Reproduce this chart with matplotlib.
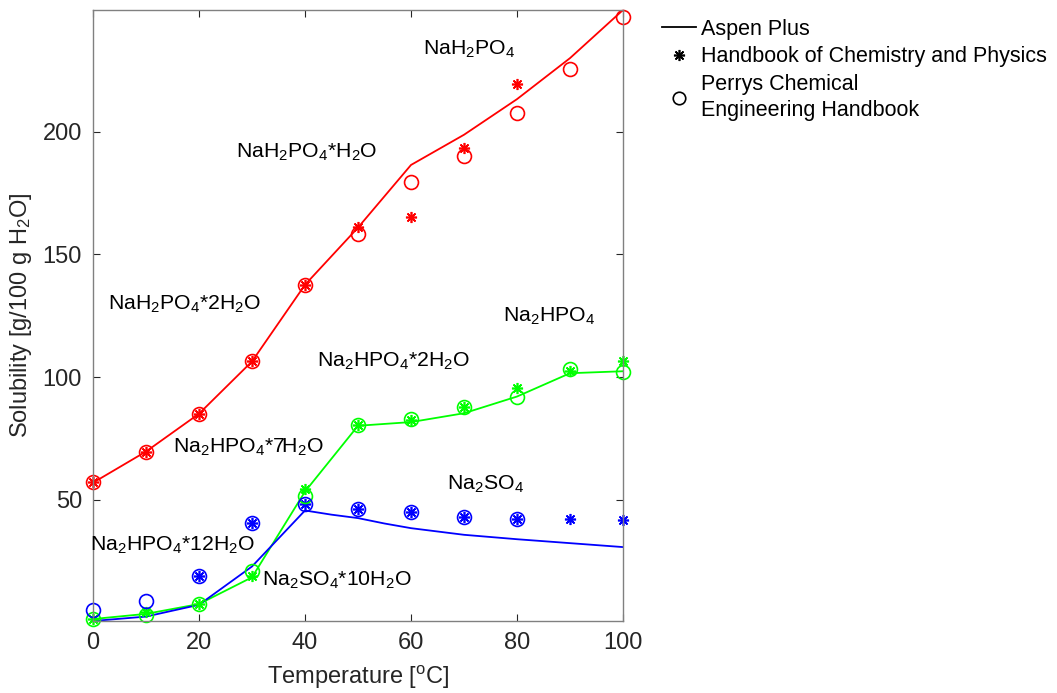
import numpy as np
import matplotlib
matplotlib.use("Agg")
import matplotlib.pyplot as plt

plt.rcParams['font.family'] = ['Liberation Sans', 'DejaVu Sans']
plt.rcParams['mathtext.fontset'] = 'custom'
plt.rcParams['mathtext.rm'] = 'Liberation Sans'
plt.rcParams['mathtext.it'] = 'Liberation Sans'

T = [0, 10, 20, 30, 40, 50, 60, 70, 80, 90, 100]

# Aspen Plus model curves
aspen_nah2po4 = [57.0, 69.7, 85.1, 106.4, 137.6, 160.9, 186.4, 198.7, 213.2, 229.9, 249.5]
aspen_na2hpo4 = [1.5, 3.6, 7.6, 18.5, 53.4, 80.2, 81.7, 85.3, 92.1, 101.6, 102.4]
aspen_na2so4_T = [0, 10, 20, 30, 40, 45, 50, 55, 60, 70, 80, 90, 100]
aspen_na2so4 = [0.7, 2.5, 7.3, 22.9, 45.7, 44.0, 42.6, 40.4, 38.5, 35.8, 34.0, 32.4, 30.8]

# Handbook of Chemistry and Physics
hb_nah2po4_T = [0, 10, 20, 30, 40, 50, 60, 70, 80]
hb_nah2po4 = [57.5, 69.7, 85.1, 106.4, 137.6, 161.3, 165.4, 193.5, 219.4]
hb_na2hpo4 = [1.5, 4.2, 7.6, 19.2, 54.5, 80.5, 82.6, 88.0, 95.5, 102.6, 106.4]
hb_na2so4_T = [20, 30, 40, 50, 60, 70, 80, 90, 100]
hb_na2so4 = [19.2, 40.8, 48.3, 46.4, 44.9, 43.2, 42.3, 42.2, 41.9]

# Perrys Chemical Engineering Handbook
pe_nah2po4 = [57.5, 69.7, 85.1, 106.4, 137.6, 158.3, 179.4, 190.2, 207.5, 225.4, 246.6]
pe_na2hpo4 = [1.5, 3.1, 7.6, 21.1, 51.7, 80.5, 83.0, 88.0, 91.8, 103.4, 102.0]
pe_na2so4_T = [0, 10, 20, 30, 40, 50, 60, 70, 80]
pe_na2so4 = [5.0, 8.9, 19.2, 40.8, 48.3, 46.4, 44.9, 43.2, 42.3]

phase_labels = [
    (62.3, 234.1, r'NaH$_2$PO$_4$'),
    (27.0, 192.3, r'NaH$_2$PO$_4$*H$_2$O'),
    (2.8, 130.4, r'NaH$_2$PO$_4$*2H$_2$O'),
    (77.4, 125.4, r'Na$_2$HPO$_4$'),
    (42.3, 107.0, r'Na$_2$HPO$_4$*2H$_2$O'),
    (15.1, 72.0, r'Na$_2$HPO$_4$*7H$_2$O'),
    (66.8, 57.0, r'Na$_2$SO$_4$'),
    (-0.6, 32.1, r'Na$_2$HPO$_4$*12H$_2$O'),
    (31.9, 17.9, r'Na$_2$SO$_4$*10H$_2$O'),
]

red = (1, 0, 0)
green = (0, 1, 0)
blue = (0, 0, 1)
ast = (8, 2, 0)

fig = plt.figure(figsize=(10.57, 6.93), dpi=100)
ax = fig.add_axes([93/1057, 1-621/693, 530/1057, 611/693])

ax.plot(T, aspen_nah2po4, '-', color=red, lw=1.3)
ax.plot(T, aspen_na2hpo4, '-', color=green, lw=1.3)
ax.plot(aspen_na2so4_T, aspen_na2so4, '-', color=blue, lw=1.3)

for x, y, c in [(hb_nah2po4_T, hb_nah2po4, red), (T, hb_na2hpo4, green), (hb_na2so4_T, hb_na2so4, blue)]:
    ax.plot(x, y, linestyle='none', marker=ast, ms=8, mew=1.2, color=c, clip_on=False)
for x, y, c in [(T, pe_nah2po4, red), (T, pe_na2hpo4, green), (pe_na2so4_T, pe_na2so4, blue)]:
    ax.plot(x, y, linestyle='none', marker='o', ms=10, mfc='none', mew=1.2, color=c, clip_on=False)

for x, y, s in phase_labels:
    ax.text(x, y - 2.8, s, fontsize=15.3, va='baseline', ha='left', color='black')

ax.set_xlim(0, 100)
ax.set_ylim(0.7, 249.5)
ax.set_xticks([0, 20, 40, 60, 80, 100])
ax.set_yticks([50, 100, 150, 200])
ax.tick_params(direction='in', top=True, right=True, length=5, labelsize=17, colors='#262626', pad=8)
for sp in ax.spines.values():
    sp.set_color('#808080')
    sp.set_linewidth(1.0)
ax.set_xlabel(r'Temperature [$^{\rm o}$C]', fontsize=17, color='#262626', labelpad=7)
ax.set_ylabel(r'Solubility [g/100 g H$_2$O]', fontsize=17, color='#262626', labelpad=6)

# legend
h1, = ax.plot([], [], '-', color='black', lw=1.3)
h2, = ax.plot([], [], linestyle='none', marker=ast, ms=8, mew=1.2, color='black')
h3, = ax.plot([], [], linestyle='none', marker='o', ms=9, mfc='none', mew=1.2, color='black')
leg = fig.legend([h1, h2, h3], ['Aspen Plus', 'Handbook of Chemistry and Physics', 'Perrys Chemical\nEngineering Handbook'],
                 loc='upper left', bbox_to_anchor=(662/1057, 1-19/693), frameon=False, fontsize=15.5,
                 handlelength=1.6, handletextpad=0.2, labelspacing=0.3, borderaxespad=0, borderpad=0)
leg.get_texts()[2].set_linespacing(1.3)

fig.savefig('out.png', dpi=100)
